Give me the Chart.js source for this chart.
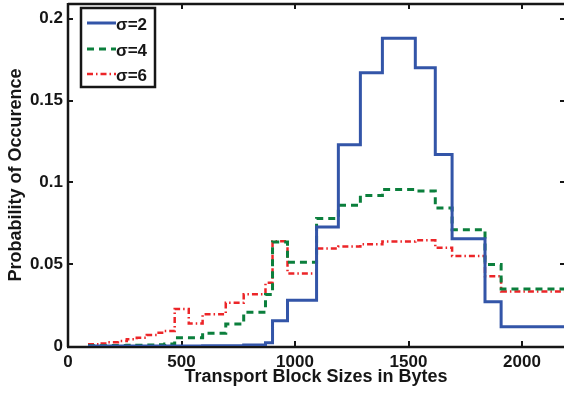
<!DOCTYPE html>
<html>
<head>
<meta charset="utf-8">
<script src="https://cdn.jsdelivr.net/npm/chart.js@4.4.1/dist/chart.umd.min.js"></script>
<style>
  html, body { margin: 0; padding: 0; background: #ffffff; }
  #c { display: block; }
</style>
</head>
<body>
<canvas id="c" width="564" height="394"></canvas>
<script>
// ---- data ----
// left edge of each transport-block-size bin (bytes)
const binEdges = [88, 141, 176, 220, 259, 303, 347, 391, 426, 470, 532, 593, 695, 774, 870, 901, 967, 1095, 1191, 1288, 1385, 1530, 1618, 1692, 1837, 1908];
const sigma2 = [0, 0, 0, 0, 0, 0, 0, 0, 0, 0, 0, 0.0002, 0.0002, 0.0006, 0.002, 0.0154, 0.028, 0.0727, 0.123, 0.167, 0.188, 0.170, 0.117, 0.0656, 0.027, 0.0117];
const sigma4 = [0.0002, 0.0002, 0.0003, 0.0003, 0.0004, 0.0005, 0.0006, 0.0008, 0.0012, 0.0051, 0.0051, 0.0078, 0.0134, 0.0207, 0.0315, 0.0636, 0.0512, 0.0779, 0.086, 0.0919, 0.0957, 0.0947, 0.0843, 0.0711, 0.0498, 0.0348];
const sigma6 = [0.001, 0.0016, 0.0023, 0.003, 0.0041, 0.0051, 0.0067, 0.0081, 0.0091, 0.0226, 0.0138, 0.0194, 0.0264, 0.0317, 0.0386, 0.064, 0.0443, 0.0596, 0.0608, 0.0622, 0.0638, 0.0646, 0.060, 0.055, 0.0427, 0.0333];
const seriesNames = ['\u03C3=2', '\u03C3=4', '\u03C3=6'];
const xTicks = [0, 500, 1000, 1500, 2000];
const xTickLabels = ['0', '500', '1000', '1500', '2000'];
const yTicks = [0, 0.05, 0.1, 0.15, 0.2];
const yTickLabels = ['0', '0.05', '0.1', '0.15', '0.2'];
const xMin = 0, xMax = 2185;
const yMin = 0, yMax = 0.209;

// ---- build step points ----
function toPoints(vals) {
  const pts = binEdges.map((e, i) => ({ x: e, y: vals[i] }));
  pts.push({ x: xMax, y: vals[vals.length - 1] });
  return pts;
}

const FONT = "'Liberation Sans', Arial, Helvetica, sans-serif";
const INK = '#161616';

const styles = [
  { color: '#3355a8', width: 3, dash: [] },
  { color: '#0b7f3c', width: 3, dash: [7, 5] },
  { color: '#ec2528', width: 2.5, dash: [6, 3, 1.5, 3] }
];

const frame = {
  id: 'frame',
  beforeDatasetsDraw(chart) {
    const { ctx, chartArea: a, scales: { x, y } } = chart;
    ctx.save();
    ctx.strokeStyle = INK;
    ctx.lineWidth = 2.5;
    ctx.lineCap = 'butt';
    ctx.beginPath();
    ctx.moveTo(a.left, a.top);
    ctx.lineTo(a.right + 2, a.top);
    ctx.moveTo(a.left, a.top - 1);
    ctx.lineTo(a.left, a.bottom + 1);
    ctx.moveTo(a.left - 1, a.bottom + 1);
    ctx.lineTo(a.right + 2, a.bottom + 1);
    ctx.stroke();
    ctx.lineWidth = 2;
    ctx.beginPath();
    xTicks.forEach(v => {
      if (v === xMin) return;
      const px = Math.round(x.getPixelForValue(v));
      ctx.moveTo(px, a.bottom);
      ctx.lineTo(px, a.bottom - 5);
      ctx.moveTo(px, a.top);
      ctx.lineTo(px, a.top + 5);
    });
    yTicks.forEach(v => {
      if (v === yMin) return;
      const py = Math.round(y.getPixelForValue(v));
      ctx.moveTo(a.left, py);
      ctx.lineTo(a.left + 5, py);
      ctx.moveTo(a.right, py);
      ctx.lineTo(a.right - 4, py);
    });
    ctx.stroke();
    ctx.restore();
  },
  afterDraw(chart) {
    const { ctx } = chart;
    ctx.save();
    // legend box
    const bx = 81, by = 8, bw = 74, bh = 79;
    ctx.fillStyle = '#ffffff';
    ctx.fillRect(bx, by, bw, bh);
    ctx.strokeStyle = INK;
    ctx.lineWidth = 2.5;
    ctx.strokeRect(bx, by, bw, bh);
    const rows = [23, 49, 74];
    chart.data.datasets.forEach((ds, i) => {
      const yy = rows[i];
      ctx.strokeStyle = ds.borderColor;
      ctx.lineWidth = ds.borderWidth;
      ctx.setLineDash(ds.borderDash || []);
      ctx.beginPath();
      ctx.moveTo(87, yy);
      ctx.lineTo(116, yy);
      ctx.stroke();
      ctx.setLineDash([]);
      ctx.fillStyle = INK;
      ctx.font = 'bold 17px ' + FONT;
      ctx.textAlign = 'left';
      ctx.textBaseline = 'middle';
      ctx.fillText(ds.label, 116, yy + 2);
    });
    ctx.restore();
  }
};

Chart.defaults.font.family = FONT;
Chart.defaults.color = INK;

new Chart(document.getElementById('c'), {
  type: 'line',
  data: {
    datasets: [sigma2, sigma4, sigma6].map((vals, i) => ({
      label: seriesNames[i],
      data: toPoints(vals),
      borderColor: styles[i].color,
      backgroundColor: styles[i].color,
      borderWidth: styles[i].width,
      borderDash: styles[i].dash,
      stepped: 'before',
      pointRadius: 0,
      fill: false,
      tension: 0
    }))
  },
  options: {
    responsive: false,
    animation: false,
    devicePixelRatio: 1,
    layout: { padding: { top: 4, right: 0, bottom: 0, left: 0 } },
    plugins: { legend: { display: false }, tooltip: { enabled: false } },
    scales: {
      x: {
        type: 'linear',
        min: xMin,
        max: xMax,
        afterFit(s) { s.height = 48; s.paddingLeft = 0; s.paddingRight = 0; },
        afterBuildTicks(s) { s.ticks = xTicks.map(v => ({ value: v })); },
        grid: { display: false, drawTicks: false },
        border: { display: false },
        ticks: {
          padding: 6,
          maxRotation: 0,
          minRotation: 0,
          autoSkip: false,
          font: { size: 17, weight: 'bold' },
          color: INK,
          callback: (v, i) => xTickLabels[i]
        },
        title: {
          display: true,
          text: 'Transport Block Sizes in Bytes',
          font: { size: 18, weight: 'bold' },
          color: INK,
          padding: { top: 0, bottom: 6 }
        }
      },
      y: {
        type: 'linear',
        min: yMin,
        max: yMax,
        afterFit(s) { s.width = 68; s.paddingTop = 0; s.paddingBottom = 0; },
        afterBuildTicks(s) { s.ticks = yTicks.map(v => ({ value: v })); },
        grid: { display: false, drawTicks: false },
        border: { display: false },
        ticks: {
          padding: 5,
          autoSkip: false,
          font: { size: 17, weight: 'bold' },
          color: INK,
          callback: (v, i) => yTickLabels[i]
        },
        title: {
          display: true,
          text: 'Probability of Occurence',
          font: { size: 18, weight: 'bold' },
          color: INK,
          padding: { top: 5, bottom: 0 }
        }
      }
    }
  },
  plugins: [frame]
});
</script>
</body>
</html>
